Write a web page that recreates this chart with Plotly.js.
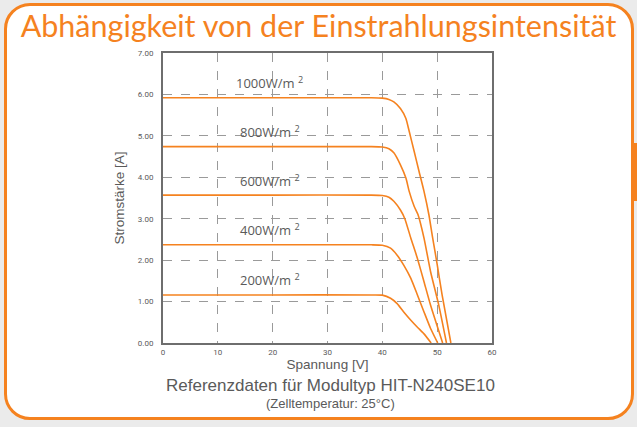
<!DOCTYPE html>
<html>
<head>
<meta charset="utf-8">
<script src="https://cdn.plot.ly/plotly-3.0.1.min.js"></script>
<style>
  html, body { margin: 0; padding: 0; width: 637px; height: 427px; overflow: hidden; background: #ebebeb; }
  #frame { position: absolute; left: 4px; top: 3px; width: 624px; height: 411px; border: 3px solid #f5821f; border-radius: 26px; background: #ffffff; }
  #tab { position: absolute; left: 632px; top: 143px; width: 5px; height: 58px; background: #f5821f; }
  #chart { position: absolute; left: 0; top: 0; width: 637px; height: 427px; }
</style>
</head>
<body>
<div id="frame"></div>
<div id="tab"></div>
<div id="chart"></div>
<script>
// Irradiance levels and I-V curve readings (voltage V, current A)
const irradiance = ["200W/m", "400W/m", "600W/m", "800W/m", "1000W/m"];

const v200 = [0, 20, 38, 40, 41.5, 42.7, 43.9, 45.2, 46.4, 47.6, 48.9];
const i200 = [1.16, 1.16, 1.16, 1.155, 1.08, 0.95, 0.75, 0.55, 0.38, 0.22, 0];

const v400 = [0, 20, 38, 40, 41.5, 42.7, 43.9, 45.2, 46.4, 47.6, 48.8, 50.1];
const i400 = [2.37, 2.37, 2.37, 2.36, 2.29, 2.12, 1.88, 1.56, 1.16, 0.75, 0.35, 0];

const v600 = [0, 20, 38, 40, 41.2, 42.1, 43.3, 44.1, 45.2, 46.4, 47.6, 48.8, 51.0];
const i600 = [3.57, 3.57, 3.57, 3.56, 3.52, 3.42, 3.21, 3.0, 2.53, 2.04, 1.48, 0.91, 0];

const v800 = [0, 20, 38, 40, 41.2, 42.1, 43.3, 44.3, 44.9, 45.8, 46.5, 47.6, 48.8, 50.3, 51.7];
const i800 = [4.74, 4.74, 4.74, 4.73, 4.69, 4.59, 4.30, 3.98, 3.66, 3.30, 3.10, 2.53, 1.72, 0.91, 0];

const v1000 = [0, 20, 38, 40, 41.2, 42.1, 43.3, 44.3, 44.9, 45.8, 46.7, 47.6, 48.5, 49.1, 50.0, 50.9, 52.5];
const i1000 = [5.92, 5.92, 5.92, 5.91, 5.88, 5.82, 5.66, 5.42, 5.11, 4.63, 4.14, 3.66, 3.09, 2.60, 1.90, 1.16, 0];

const xs = [v200, v400, v600, v800, v1000];
const ys = [i200, i400, i600, i800, i1000];

const xTicks = [0, 10, 20, 30, 40, 50, 60];
const yTicks = [0, 1, 2, 3, 4, 5, 6, 7];

const orange = "#f5821f";
const gray = "#5a5a5a";

const traces = xs.map((x, k) => ({
  x: x, y: ys[k], type: "scatter", mode: "lines",
  line: { color: orange, width: 1.6, shape: "spline", smoothing: 0.5 },
  hoverinfo: "skip", showlegend: false
}));

const annotations = irradiance.map((t, k) => ({
  x: 19.5, y: ys[k][0], xref: "x", yref: "y", yshift: 15,
  text: t + " <sup>2</sup>", showarrow: false,
  font: { family: "Open Sans, sans-serif", size: 13, color: gray }
}));

annotations.push({
  xref: "paper", yref: "paper", x: 0.51, y: -0.148, xanchor: "center", yanchor: "middle",
  text: "Referenzdaten für Modultyp HIT-N240SE10", showarrow: false,
  font: { family: "Liberation Sans, Arial, sans-serif", size: 17, color: gray }
});
annotations.push({
  xref: "paper", yref: "paper", x: 0.51, y: -0.21, xanchor: "center", yanchor: "middle",
  text: "(Zelltemperatur: 25°C)", showarrow: false,
  font: { family: "Liberation Sans, Arial, sans-serif", size: 13, color: gray }
});

const layout = {
  width: 637, height: 427,
  paper_bgcolor: "rgba(0,0,0,0)", plot_bgcolor: "#ffffff",
  margin: { l: 163, r: 145, t: 53, b: 84 },
  title: {
    text: "Abhängigkeit von der Einstrahlungsintensität",
    font: { family: "Lato, sans-serif", size: 30.5, color: orange },
    x: 0.5, xanchor: "center", y: 0.963, yanchor: "top", xref: "container", yref: "container"
  },
  xaxis: {
    range: [0, 60], tickvals: xTicks, ticktext: xTicks.map(String),
    showgrid: true, gridcolor: "#9a9a9a", griddash: "dash", gridwidth: 1,
    zeroline: false, showline: true, linecolor: "#6e6e6e", linewidth: 2, mirror: true,
    ticks: "", tickfont: { family: "Liberation Sans Narrow, Roboto, sans-serif", size: 8, color: gray },
    title: { text: "Spannung [V]", font: { family: "Liberation Sans, Arial, sans-serif", size: 13.5, color: gray }, standoff: 4 },
    fixedrange: true
  },
  yaxis: {
    range: [0, 7], tickvals: yTicks, ticktext: yTicks.map(v => v.toFixed(2)),
    showgrid: true, gridcolor: "#9a9a9a", griddash: "dash", gridwidth: 1,
    zeroline: false, showline: true, linecolor: "#6e6e6e", linewidth: 2, mirror: true,
    ticks: "", ticklabelstandoff: 6,
    tickfont: { family: "Liberation Sans Narrow, Roboto, sans-serif", size: 8, color: gray },
    title: { text: "Stromstärke [A]", font: { family: "Liberation Sans, Arial, sans-serif", size: 13.5, color: gray }, standoff: 10 },
    fixedrange: true
  },
  annotations: annotations,
  showlegend: false
};

Plotly.newPlot("chart", traces, layout, { displayModeBar: false, staticPlot: true });
</script>
</body>
</html>
